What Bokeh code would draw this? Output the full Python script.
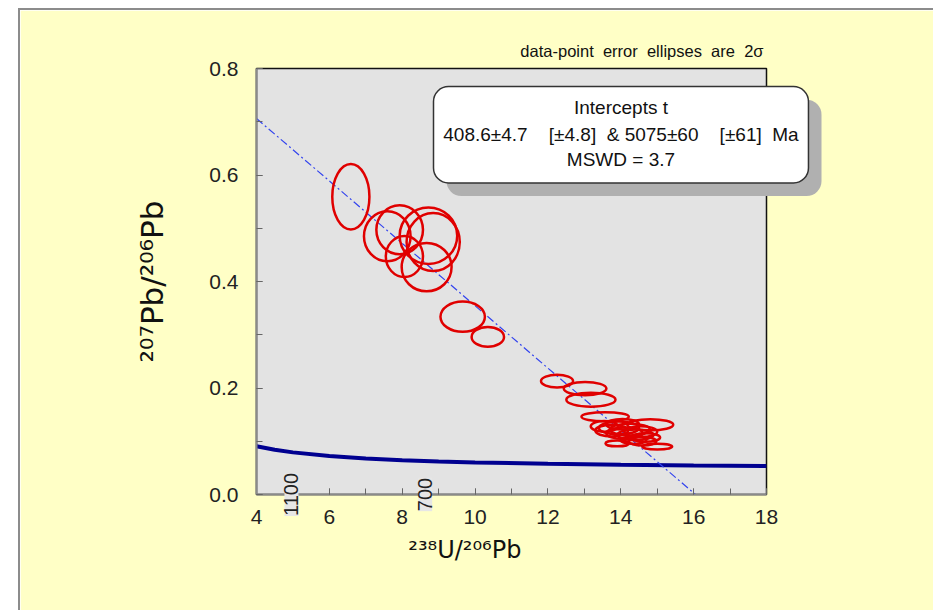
import numpy as np
from bokeh.plotting import figure
from bokeh.models import Range1d, FixedTicker, PrintfTickFormatter
from bokeh.core.properties import value
from bokeh.models import ColumnDataSource
from bokeh.embed import file_html
from bokeh.resources import INLINE

# ---- data ----
ell_x = [6.59, 7.59, 7.93, 8.06, 8.72, 8.85, 8.67, 9.66, 10.35, 12.25, 13.02, 13.18, 13.57, 14.81,
         13.55, 13.75, 13.95, 14.10, 14.25, 14.40, 14.55, 14.05, 14.60, 14.68, 15.00, 13.90, 14.35]
ell_y = [0.559, 0.485, 0.497, 0.447, 0.486, 0.474, 0.427, 0.334, 0.296, 0.213, 0.199, 0.178, 0.146, 0.131,
         0.128, 0.120, 0.125, 0.115, 0.122, 0.112, 0.118, 0.132, 0.100, 0.107, 0.090, 0.096, 0.102]
ell_w = [1.02, 1.28, 1.28, 1.02, 1.58, 1.46, 1.37, 1.22, 0.89, 0.88, 1.17, 1.35, 1.30, 1.26,
         0.75, 0.90, 1.10, 1.00, 1.10, 1.00, 0.90, 0.90, 0.75, 0.80, 0.82, 0.64, 0.70]
ell_h = [0.123, 0.094, 0.092, 0.077, 0.106, 0.109, 0.091, 0.057, 0.037, 0.024, 0.025, 0.026, 0.017, 0.021,
         0.020, 0.022, 0.024, 0.022, 0.022, 0.020, 0.020, 0.020, 0.016, 0.016, 0.011, 0.011, 0.014]

conc_x = [4.0, 4.5, 5.0, 6.0, 7.0, 8.0, 9.0, 10.0, 12.0, 14.0, 16.0, 18.0]
conc_y = [0.0906, 0.0841, 0.0791, 0.0723, 0.0677, 0.0645, 0.0622, 0.0603, 0.0576, 0.0558, 0.0545, 0.0535]
conc_age_labels = ["1100", "700"]
conc_age_x = [4.96, 8.63]

disc_x = [4.0, 16.05]
disc_y = [0.706, 0.0]

x_ticks = [4, 6, 8, 10, 12, 14, 16, 18]
y_ticks = [0.0, 0.2, 0.4, 0.6, 0.8]

x_label = "\u00b2\u00b3\u2078U/\u00b2\u2070\u2076Pb"
y_label = "\u00b2\u2070\u2077Pb/\u00b2\u2070\u2076Pb"
title_text = "data-point\u00a0 error\u00a0 ellipses\u00a0 are\u00a0 2\u03c3"
box_lines = ["Intercepts t",
             "408.6\u00b14.7\u00a0\u00a0\u00a0\u00a0[\u00b14.8]\u00a0\u00a0& 5075\u00b160\u00a0\u00a0\u00a0\u00a0[\u00b161]\u00a0\u00a0Ma",
             "MSWD = 3.7"]
box_line_y = [0.7264, 0.6755, 0.6283]

FONT = "Liberation Sans"

p = figure(width=915, height=602, x_range=Range1d(4, 18), y_range=Range1d(0, 0.8),
           output_backend="svg", toolbar_location=None,
           min_border_left=236, min_border_right=169, min_border_top=58, min_border_bottom=118,
           background_fill_color="#e3e3e3", border_fill_color="#ffffc6")
p.margin = (8, 0, 0, 18)
p.styles = {"border-left": "2px solid #8c8c8c", "border-top": "2px solid #8c8c8c"}
p.grid.visible = False
p.outline_line_color = "#111111"
p.outline_line_width = 1.5

p.title.text = title_text
p.title.align = "right"
p.title.text_font = FONT
p.title.text_font_size = "16.5px"
p.title.text_font_style = "normal"
p.title.text_color = "#111111"
p.title.standoff = 18
p.title.offset = 3

for ax in (p.xaxis[0], p.yaxis[0]):
    ax.axis_line_color = "#8a8a8a"
    ax.axis_line_width = 2
    ax.major_tick_in = 6
    ax.major_tick_out = 0
    ax.minor_tick_in = 6
    ax.minor_tick_out = 0
    ax.major_tick_line_color = "#666666"
    ax.minor_tick_line_color = "#666666"
    ax.major_label_text_font = FONT
    ax.major_label_text_font_size = "21px"
    ax.major_label_text_color = "#222222"
    ax.axis_label_text_font = "DejaVu Sans"
    ax.axis_label_text_font_style = "normal"
    ax.axis_label_text_color = "#111111"

p.xaxis.ticker = FixedTicker(ticks=x_ticks, minor_ticks=list(range(4, 19)))
p.yaxis.ticker = FixedTicker(ticks=y_ticks, minor_ticks=[i / 10 for i in range(0, 9)])
p.yaxis.formatter = PrintfTickFormatter(format="%.1f")
p.xaxis.major_label_standoff = 15
p.yaxis.major_label_standoff = 18
p.yaxis.axis_label = y_label
p.yaxis.axis_label_text_font_size = "31px"
p.yaxis.axis_label_standoff = 36

# concordia curve
p.line(conc_x, conc_y, line_color="#000090", line_width=4)
# discordia line
p.line(disc_x, disc_y, line_color="#3344ee", line_width=1.2, line_dash="8 3 2 3")
# error ellipses
src = ColumnDataSource(dict(x=ell_x, y=ell_y, w=ell_w, h=ell_h))
p.ellipse(x="x", y="y", width="w", height="h", source=src, fill_color=None,
          line_color="#e00000", line_width=2.5)

# concordia age labels (straddle the frame edge)
p.text(x=conc_age_x, y=[0.0] * len(conc_age_x), text=conc_age_labels, angle=np.pi / 2,
       text_align="center", text_baseline="middle", text_font=value(FONT),
       text_font_size="20px", text_color="#222222",
       background_fill_color="#e6e6e6", level="overlay")

# x-axis title (placed left of centre, as in the reference)
p.text(x=[9.72], y=[-0.104], text=[x_label], text_align="center", text_baseline="middle",
       text_font=value("DejaVu Sans"), text_font_size="24px", text_color="#111111", level="overlay")

# intercept box with shadow (extends past the frame)
p.quad(left=[9.216], right=[19.51], top=[0.7415], bottom=[0.5604],
       fill_color="#b0b0b0", line_color=None, border_radius=15, level="overlay")
p.quad(left=[8.859], right=[19.152], top=[0.766], bottom=[0.585],
       fill_color="white", line_color="#333333", line_width=1.5, border_radius=15, level="overlay")
p.text(x=[14.005] * 3, y=box_line_y, text=box_lines, text_align="center", text_baseline="middle",
       text_font=value(FONT), text_font_size="19px", text_color="#111111", level="overlay")

open("out.html", "w").write(file_html(p, INLINE))
